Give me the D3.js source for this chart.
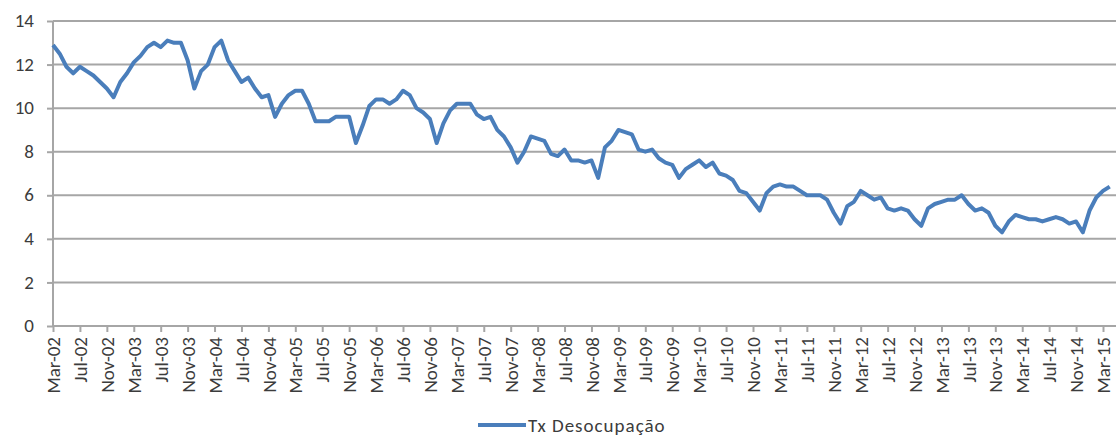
<!DOCTYPE html>
<html lang="pt">
<head>
	<meta charset="UTF-8">
	<title>Tx Desocupação</title>
	<script src="https://cdnjs.cloudflare.com/ajax/libs/d3/7.8.5/d3.min.js"></script>
	<style>
		*{
			padding: 0;
			margin: 0;
		}
		body{
			background: #fff;
		}
		#container{
			width: 1116px;
			height: 437px;
			overflow: hidden;
		}
		text{
			font-family: Carlito, "Liberation Sans Narrow", "Liberation Sans", sans-serif;
			fill: #3c3c3c;
		}
		.grid line{
			stroke: #a6a6a6;
			stroke-width: 2;
		}
		.domain,.tick line{
			stroke: #a6a6a6;
			stroke-width: 2;
		}
		.series{
			fill: none;
			stroke: #4a7ebb;
			stroke-width: 4;
			stroke-linejoin: round;
		}
	</style>
</head>
<body>
	<div id="container"></div>
<script>
	// monthly rate, Mar-02 .. Apr-15
	var v2002=[12.9,12.5,11.9,11.6,11.9,11.7,11.5,11.2,10.9,10.5]
	var v2003=[11.2,11.6,12.1,12.4,12.8,13.0,12.8,13.1,13.0,13.0,12.2,10.9]
	var v2004=[11.7,12.0,12.8,13.1,12.2,11.7,11.2,11.4,10.9,10.5,10.6,9.6]
	var v2005=[10.2,10.6,10.8,10.8,10.2,9.4,9.4,9.4,9.6,9.6,9.6,8.4]
	var v2006=[9.2,10.1,10.4,10.4,10.2,10.4,10.8,10.6,10.0,9.8,9.5,8.4]
	var v2007=[9.3,9.9,10.2,10.2,10.2,9.7,9.5,9.6,9.0,8.7,8.2,7.5]
	var v2008=[8.0,8.7,8.6,8.5,7.9,7.8,8.1,7.6,7.6,7.5,7.6,6.8]
	var v2009=[8.2,8.5,9.0,8.9,8.8,8.1,8.0,8.1,7.7,7.5,7.4,6.8]
	var v2010=[7.2,7.4,7.6,7.3,7.5,7.0,6.9,6.7,6.2,6.1,5.7,5.3]
	var v2011=[6.1,6.4,6.5,6.4,6.4,6.2,6.0,6.0,6.0,5.8,5.2,4.7]
	var v2012=[5.5,5.7,6.2,6.0,5.8,5.9,5.4,5.3,5.4,5.3,4.9,4.6]
	var v2013=[5.4,5.6,5.7,5.8,5.8,6.0,5.6,5.3,5.4,5.2,4.6,4.3]
	var v2014=[4.8,5.1,5.0,4.9,4.9,4.8,4.9,5.0,4.9,4.7,4.8,4.3]
	var v2015=[5.3,5.9,6.2,6.4]

	var values=[].concat(v2002,v2003,v2004,v2005,v2006,v2007,v2008,v2009,v2010,v2011,v2012,v2013,v2014,v2015)

	var tickLabels=['Mar-02','Jul-02','Nov-02','Mar-03','Jul-03','Nov-03','Mar-04','Jul-04','Nov-04',
		'Mar-05','Jul-05','Nov-05','Mar-06','Jul-06','Nov-06','Mar-07','Jul-07','Nov-07',
		'Mar-08','Jul-08','Nov-08','Mar-09','Jul-09','Nov-09','Mar-10','Jul-10','Nov-10',
		'Mar-11','Jul-11','Nov-11','Mar-12','Jul-12','Nov-12','Mar-13','Jul-13','Nov-13',
		'Mar-14','Jul-14','Nov-14','Mar-15']
	var yTicks=[0,2,4,6,8,10,12,14]
	var seriesName='Tx Desocupação'

	var width=1116,
	height=437,
	margin={left:53,top:21,right:0,bottom:111}

	var svg=d3.select('#container')
	.append('svg')
	.attr('width',width)
	.attr('height',height)

	var scale_x=d3.scaleLinear()
	.domain([0,156])
	.range([margin.left,1103])
	var scale_y=d3.scaleLinear()
	.domain([0,14])
	.range([height-margin.bottom,margin.top])

	// gridlines
	svg.append('g')
	.attr('class','grid')
	.selectAll('line')
	.data(yTicks.slice(1))
	.enter()
	.append('line')
	.attr('x1',margin.left)
	.attr('x2',width)
	.attr('y1',function(d){return scale_y(d)})
	.attr('y2',function(d){return scale_y(d)})

	var y_axis=d3.axisLeft(scale_y)
	.tickValues(yTicks)
	.tickSize(6)
	.tickPadding(13)

	var gy=svg.append('g')
	.attr('transform','translate('+margin.left+',0)')
	.call(y_axis)
	gy.select('.domain').attr('d','M0,'+scale_y(14)+'V'+scale_y(0))
	gy.selectAll('text').style('font-size','19px').attr('dy','0.3em')

	var x_axis=d3.axisBottom(scale_x)
	.tickValues(tickLabels.map(function(d,i){return i*4}))
	.tickFormat(function(d){return tickLabels[d/4]})
	.tickSize(6)

	var gx=svg.append('g')
	.attr('transform','translate(0,'+scale_y(0)+')')
	.call(x_axis)
	gx.select('.domain').attr('d','M'+margin.left+',0H'+width)
	gx.selectAll('text')
	.style('font-size','19px')
	.attr('transform','rotate(-90)')
	.attr('text-anchor','end')
	.attr('x',-11)
	.attr('y',0)
	.attr('dy','0.35em')

	var line_generator=d3.line()
	.x(function(d,i){return scale_x(i)})
	.y(function(d){return scale_y(d)})

	svg.append('path')
	.attr('class','series')
	.attr('d',line_generator(values))

	// legend
	var lg=svg.append('g')
	.attr('transform','translate(478,425)')
	lg.append('line')
	.attr('x1',0)
	.attr('x2',48)
	.attr('stroke','#4a7ebb')
	.attr('stroke-width',4)
	lg.append('text')
	.attr('x',50)
	.attr('dy','0.35em')
	.style('font-size','19px')
	.style('letter-spacing','1px')
	.text(seriesName)
</script>
</body>
</html>
